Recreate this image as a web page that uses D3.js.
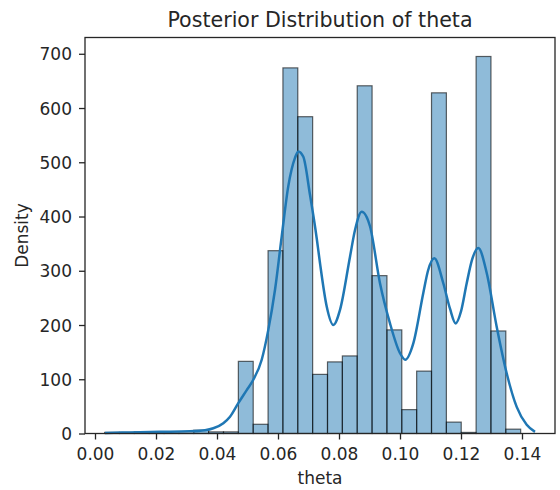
<!DOCTYPE html>
<html>
<head>
<meta charset="utf-8">
<script src="https://cdn.jsdelivr.net/npm/d3@7"></script>
<style>
  html, body { margin: 0; padding: 0; background: #fff; }
  svg text { font-family: "DejaVu Sans", sans-serif; fill: #262626; }
</style>
</head>
<body>
<svg id="chart" width="560" height="490"></svg>
<script>
// ---- data ----
const title = "Posterior Distribution of theta";
const xLabel = "theta";
const yLabel = "Density";
const binStart = 0.00315;
const binWidth = 0.004872;
const binDensity = [2, 2, 3, 3, 0.5, 0.5, 6, 3, 3, 133, 17, 337, 674, 584, 109, 132, 143, 641, 291, 191, 44, 115, 628, 21, 2, 695, 189, 8];
const kdeTheta = [0.00328, 0.01148, 0.02131, 0.03115, 0.03607, 0.03879, 0.04207, 0.04426, 0.04698, 0.04974, 0.05190, 0.05466, 0.05682, 0.05902, 0.06121, 0.06338, 0.06557, 0.06666, 0.06830, 0.07049, 0.07269, 0.07377, 0.07597, 0.07813, 0.08033, 0.08361, 0.08525, 0.08744, 0.09016, 0.09344, 0.09672, 0.10000, 0.10174, 0.10436, 0.10764, 0.10918, 0.11125, 0.11420, 0.11639, 0.11826, 0.12000, 0.12187, 0.12361, 0.12567, 0.12843, 0.13170, 0.13498, 0.13826, 0.14154, 0.14426];
const kdeDensity = [1, 2, 3, 4, 6, 9.6, 19, 31, 56, 80, 99, 136, 191, 265, 363, 456, 508, 520, 510, 440, 360, 314, 234, 200, 228, 326, 375, 409, 382, 277, 203, 148, 136, 166, 259, 300, 323, 277, 230, 203, 225, 277, 320, 342, 296, 197, 111, 49, 16, 3];
const xTicks = [0.00, 0.02, 0.04, 0.06, 0.08, 0.10, 0.12, 0.14];
const yTicks = [0, 100, 200, 300, 400, 500, 600, 700];

// ---- layout ----
const svg = d3.select("#chart");
const L = 85, T = 37.5, W = 470, H = 396;
const x = d3.scaleLinear().domain([-0.00328, 0.15082]).range([L, L + W]);
const y = d3.scaleLinear().domain([0, 730]).range([T + H, T]);

const g = svg.append("g");

// bars
const bins = binDensity.map((d, i) => ({ x0: binStart + i * binWidth, x1: binStart + (i + 1) * binWidth, v: d }));
g.selectAll("rect.bar").data(bins).enter().append("rect")
  .attr("class", "bar")
  .attr("x", d => x(d.x0))
  .attr("width", d => x(d.x1) - x(d.x0))
  .attr("y", d => y(d.v))
  .attr("height", d => y(0) - y(d.v))
  .attr("fill", "#1f77b4")
  .attr("fill-opacity", 0.5)
  .attr("stroke", "#000")
  .attr("stroke-opacity", 0.6)
  .attr("stroke-width", 1.2);

// kde line
const kde = kdeTheta.map((t, i) => [t, kdeDensity[i]]);
g.append("path")
  .datum(kde)
  .attr("fill", "none")
  .attr("stroke", "#1f77b4")
  .attr("stroke-width", 2.5)
  .attr("d", d3.line().x(d => x(d[0])).y(d => y(d[1])).curve(d3.curveMonotoneX));

// axes
const xAxis = d3.axisBottom(x).tickValues(xTicks).tickFormat(d3.format(".2f")).tickSize(6).tickPadding(8).tickSizeOuter(0);
const yAxis = d3.axisLeft(y).tickValues(yTicks).tickFormat(d3.format("d")).tickSize(6).tickPadding(7).tickSizeOuter(0);

const gx = svg.append("g").attr("transform", `translate(0,${T + H})`).call(xAxis);
const gy = svg.append("g").attr("transform", `translate(${L},0)`).call(yAxis);
[gx, gy].forEach(a => {
  a.select(".domain").remove();
  a.selectAll("text").style("font-size", "17px").attr("fill", "#262626");
  a.selectAll("line").attr("stroke", "#262626").attr("stroke-width", 1.3);
});
gy.selectAll("text").attr("dy", "0.36em");

// frame
svg.append("rect")
  .attr("x", L).attr("y", T).attr("width", W).attr("height", H)
  .attr("fill", "none").attr("stroke", "#262626").attr("stroke-width", 1.3);

// labels
svg.append("text").attr("x", L + W / 2).attr("y", 26.7).attr("text-anchor", "middle")
  .style("font-size", "20.6px").text(title);
svg.append("text").attr("x", L + W / 2).attr("y", 484).attr("text-anchor", "middle")
  .style("font-size", "17px").text(xLabel);
svg.append("text").attr("transform", `translate(27.5,${T + H / 2}) rotate(-90)`).attr("text-anchor", "middle")
  .style("font-size", "17px").text(yLabel);
</script>
</body>
</html>
